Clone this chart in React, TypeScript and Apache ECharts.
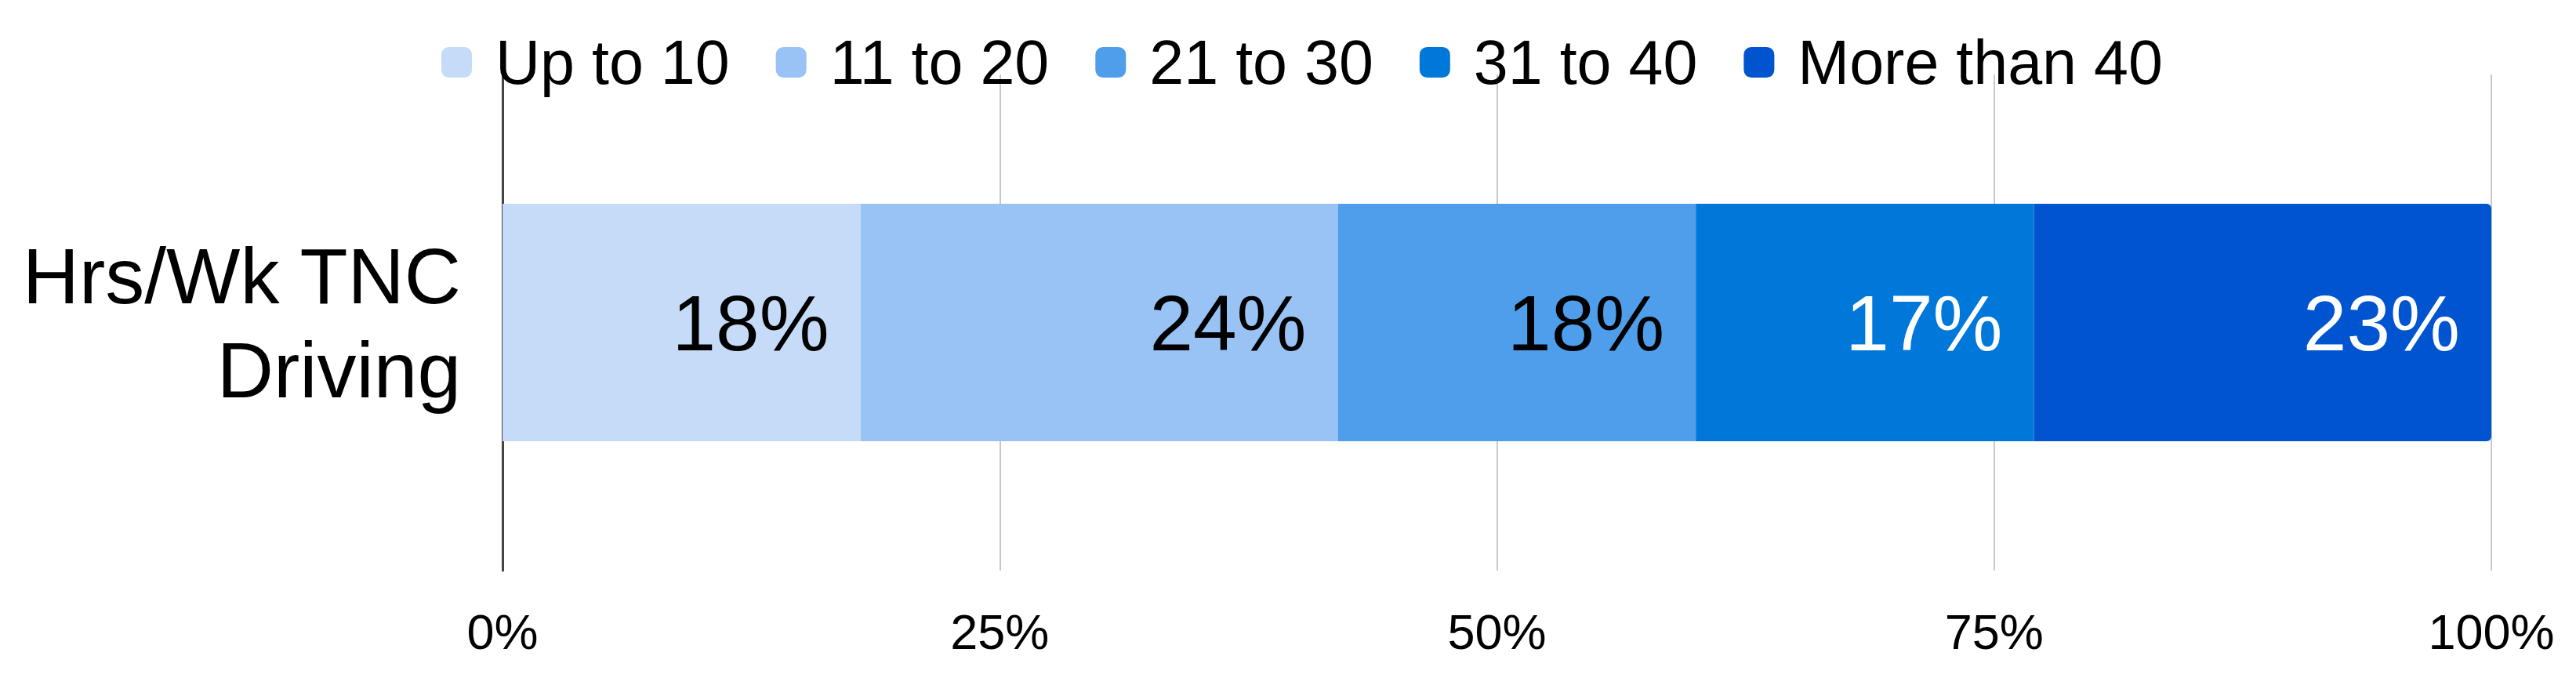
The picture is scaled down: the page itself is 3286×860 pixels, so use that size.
import React, { useEffect, useRef } from "react";
import * as echarts from "echarts";

const categories = ["Hrs/Wk TNC\nDriving"];
const seriesNames = ["Up to 10", "11 to 20", "21 to 30", "31 to 40", "More than 40"];
const seriesValues = [18, 24, 18, 17, 23];
const seriesColors = ["#c5dbf7", "#99c3f5", "#4e9eec", "#0078da", "#0054cf"];
const labelColors = ["#000000", "#000000", "#000000", "#ffffff", "#ffffff"];
const xTicks = [0, 25, 50, 75, 100];

const FONT = "'Liberation Sans', Arial, sans-serif";

export default function App() {
  const ref = useRef<HTMLDivElement>(null);
  useEffect(() => {
    document.body.style.margin = "0";
    if (!ref.current) return;
    const chart = echarts.init(ref.current, null, { renderer: "svg" });
    const n = seriesNames.length;
    const option: any = {
      animation: false,
      backgroundColor: "#ffffff",
      textStyle: { fontFamily: FONT },
      legend: {
        data: seriesNames,
        left: 558,
        top: 35,
        itemWidth: 39,
        itemHeight: 39,
        itemGap: 59,
        icon: "roundRect",
        textStyle: {
          fontFamily: FONT,
          fontSize: 79,
          color: "#000000",
          padding: [0, 0, 0, 25],
        },
      },
      grid: { left: 641, right: 108, top: 95, bottom: 132, containLabel: false },
      xAxis: {
        type: "value",
        min: xTicks[0],
        max: xTicks[xTicks.length - 1],
        interval: 25,
        axisLine: { show: false },
        axisTick: { show: false },
        splitLine: { show: true, lineStyle: { color: "#c8c8c8", width: 2 } },
        axisLabel: {
          formatter: "{value}%",
          fontFamily: FONT,
          fontSize: 63,
          color: "#000000",
          margin: 46,
        },
      },
      yAxis: {
        type: "category",
        data: categories,
        axisLine: { show: true, lineStyle: { color: "#444444", width: 3 } },
        axisTick: { show: false },
        splitLine: { show: false },
        axisLabel: {
          fontFamily: FONT,
          fontSize: 100,
          lineHeight: 120,
          color: "#000000",
          align: "right",
          margin: 53,
          padding: [0, 0, 10, 0],
        },
      },
      series: seriesNames.map((name, i) => ({
        name,
        type: "bar",
        stack: "total",
        barWidth: 303,
        data: [seriesValues[i]],
        itemStyle: {
          color: seriesColors[i],
          borderRadius: i === n - 1 ? [0, 6, 6, 0] : 0,
        },
        label: {
          show: true,
          position: "insideRight",
          distance: 40,
          formatter: "{c}%",
          fontFamily: FONT,
          fontSize: 100,
          color: labelColors[i],
        },
      })),
    };
    chart.setOption(option);
    return () => chart.dispose();
  }, []);
  return <div ref={ref} style={{ width: 3286, height: 860 }} />;
}
